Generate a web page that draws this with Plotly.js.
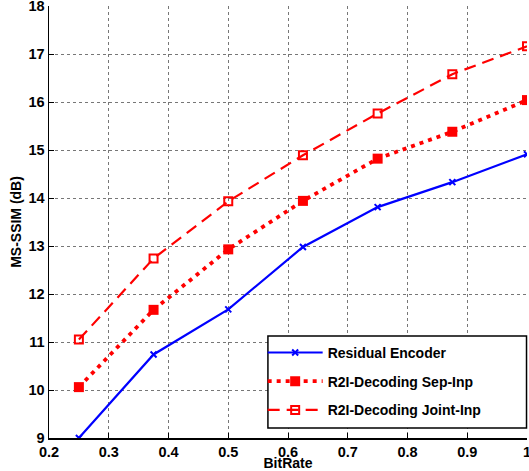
<!DOCTYPE html>
<html>
<head>
<script src="https://cdn.plot.ly/plotly-3.0.1.min.js"></script>
<style>html,body{margin:0;padding:0;background:#fff;}#chart{width:529px;height:471px;}</style>
</head>
<body>
<div id="chart"></div>
<script>
const bitRate = [0.25, 0.375, 0.5, 0.625, 0.75, 0.875, 1.0];
const residualEncoder = [9.0, 10.74, 11.68, 12.98, 13.81, 14.33, 14.91];
const sepInp = [10.06, 11.67, 12.93, 13.94, 14.82, 15.38, 16.04];
const jointInp = [11.05, 12.74, 13.93, 14.89, 15.76, 16.58, 17.16];
const seriesNames = ["Residual Encoder", "R2I-Decoding Sep-Inp", "R2I-Decoding Joint-Inp"];
const xTickVals = [0.2, 0.3, 0.4, 0.5, 0.6, 0.7, 0.8, 0.9, 1.0];
const xTickText = ["0.2", "0.3", "0.4", "0.5", "0.6", "0.7", "0.8", "0.9", "1"];
const yTickVals = [9, 10, 11, 12, 13, 14, 15, 16, 17, 18];

const FONT = "Liberation Sans, Arial, sans-serif";
const traces = [
  {x: bitRate, y: residualEncoder, name: seriesNames[0], legendgroup: "a", mode: "lines+markers",
   line: {color: "#0000ff", width: 2.2}, marker: {symbol: "x-thin", size: 6, color: "#0000ff", line: {color: "#0000ff", width: 2}}},
  {x: bitRate, y: sepInp, name: seriesNames[1], legendgroup: "b", mode: "lines+markers",
   line: {color: "#ff0000", width: 3.8, dash: "4px,5px"}, marker: {symbol: "square", size: 10, color: "#ff0000"}},
  {x: bitRate, y: jointInp, name: seriesNames[2], legendgroup: "c", mode: "lines+markers",
   line: {color: "#ff0000", width: 2.2, dash: "12px,7px"}, marker: {symbol: "square-open", size: 8, color: "#ff0000", line: {color: "#ff0000", width: 2}}}
];
const axisCommon = {
  showline: true, linecolor: "#000", linewidth: 1.5, mirror: false,
  ticks: "inside", ticklen: 5, tickcolor: "#000", tickwidth: 1,
  showgrid: true, gridcolor: "#777", griddash: "dot", gridwidth: 1,
  zeroline: false, ticklabeloverflow: "allow",
  tickfont: {family: FONT, size: 14.5, color: "#000", weight: "bold"}
};
const layout = {
  width: 529, height: 471,
  margin: {l: 49, r: 2, t: 6, b: 33},
  paper_bgcolor: "#fff", plot_bgcolor: "#fff",
  font: {family: FONT, color: "#000"},
  showlegend: true,
  legend: {x: 0.447, y: 0.028, xanchor: "left", yanchor: "bottom",
           borderwidth: 0, bgcolor: "rgba(0,0,0,0)",
           font: {family: FONT, size: 14, color: "#000", weight: "bold"},
           tracegroupgap: 7.5, itemwidth: 55},
  shapes: [{type: "rect", xref: "paper", yref: "paper", x0: 0.458, x1: 0.999, y0: 0.023, y1: 0.236,
            fillcolor: "#fff", line: {color: "#000", width: 1.5}, layer: "above"}],
  xaxis: Object.assign({}, axisCommon, {range: [0.2, 1.0], tickvals: xTickVals, ticktext: xTickText,
    title: {text: "<b>BitRate</b>", font: {family: FONT, size: 14, color: "#000"}, standoff: 0}}),
  yaxis: Object.assign({}, axisCommon, {range: [9, 18], tickvals: yTickVals, ticklabelstandoff: 0,
    title: {text: "<b>MS-SSIM (dB)</b>", font: {family: FONT, size: 14, color: "#000"}, standoff: 3}})
};
Plotly.newPlot("chart", traces, layout, {displayModeBar: false, staticPlot: true});
</script>
</body>
</html>
